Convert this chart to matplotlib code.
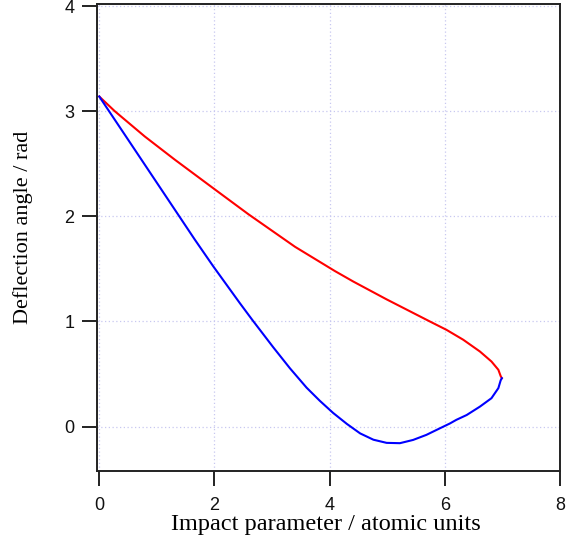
import numpy as np
import matplotlib
matplotlib.use("Agg")
import matplotlib.pyplot as plt

# deflection function: two branches meeting at the rainbow point
b_upper = [0.0, 0.27, 0.79, 1.31, 2.01, 2.59, 3.40, 4.09, 4.41, 4.99, 5.74,
           6.03, 6.32, 6.61, 6.81, 6.93, 6.97, 6.99]
chi_upper = [3.14, 3.0, 2.76, 2.54, 2.255, 2.02, 1.71, 1.48, 1.38, 1.21, 1.0,
             0.92, 0.826, 0.714, 0.619, 0.54, 0.48, 0.46]

b_lower = [0.0, 0.5, 1.08, 1.66, 1.98, 2.44, 2.65, 3.02, 3.31, 3.60, 3.83, 4.06,
           4.30, 4.53, 4.76, 4.99, 5.22, 5.45, 5.68, 5.92, 6.09, 6.20, 6.38, 6.61,
           6.81, 6.93, 6.97, 6.99]
chi_lower = [3.14, 2.73, 2.254, 1.778, 1.524, 1.175, 1.02, 0.755, 0.555, 0.37,
             0.245, 0.13, 0.025, -0.065, -0.125, -0.155, -0.158, -0.127, -0.079,
             -0.015, 0.03, 0.064, 0.11, 0.19, 0.27, 0.366, 0.44, 0.46]

xticks = [0, 2, 4, 6, 8]
yticks = [0, 1, 2, 3, 4]

fig = plt.figure(figsize=(5.66, 5.51), dpi=100)
ax = fig.add_axes([0.1708, 0.1457, 0.8186, 0.847])

ax.plot(b_upper, chi_upper, color="#ff0000", lw=1.5)
ax.plot(b_lower, chi_lower, color="#0000ff", lw=1.5)

ax.set_xlim(-0.045, 8.0)
ax.set_ylim(-0.42, 4.02)
ax.set_xticks(xticks)
ax.set_yticks(yticks)

ax.grid(True, color="#c8c8f0", linestyle=(0, (1, 2)), linewidth=0.9)
ax.set_axisbelow(True)

for s in ax.spines.values():
    s.set_linewidth(1.4)
    s.set_color("#222222")

ax.tick_params(direction="out", length=11, width=1.4, color="#222222",
               labelsize=13, labelcolor="#111111")
ax.tick_params(axis="x", pad=8)
ax.tick_params(axis="y", pad=5)
for lab in ax.get_xticklabels() + ax.get_yticklabels():
    lab.set_fontfamily("Liberation Sans")

ax.set_xlabel("Impact parameter / atomic units", fontfamily="Liberation Serif",
              fontsize=17.5)
ax.set_ylabel("Deflection angle / rad", fontfamily="Liberation Serif",
              fontsize=16)
ax.xaxis.set_label_coords(0.494, -0.093)
ax.yaxis.set_label_coords(-0.138, 0.522)

fig.savefig("out.png", dpi=100)
